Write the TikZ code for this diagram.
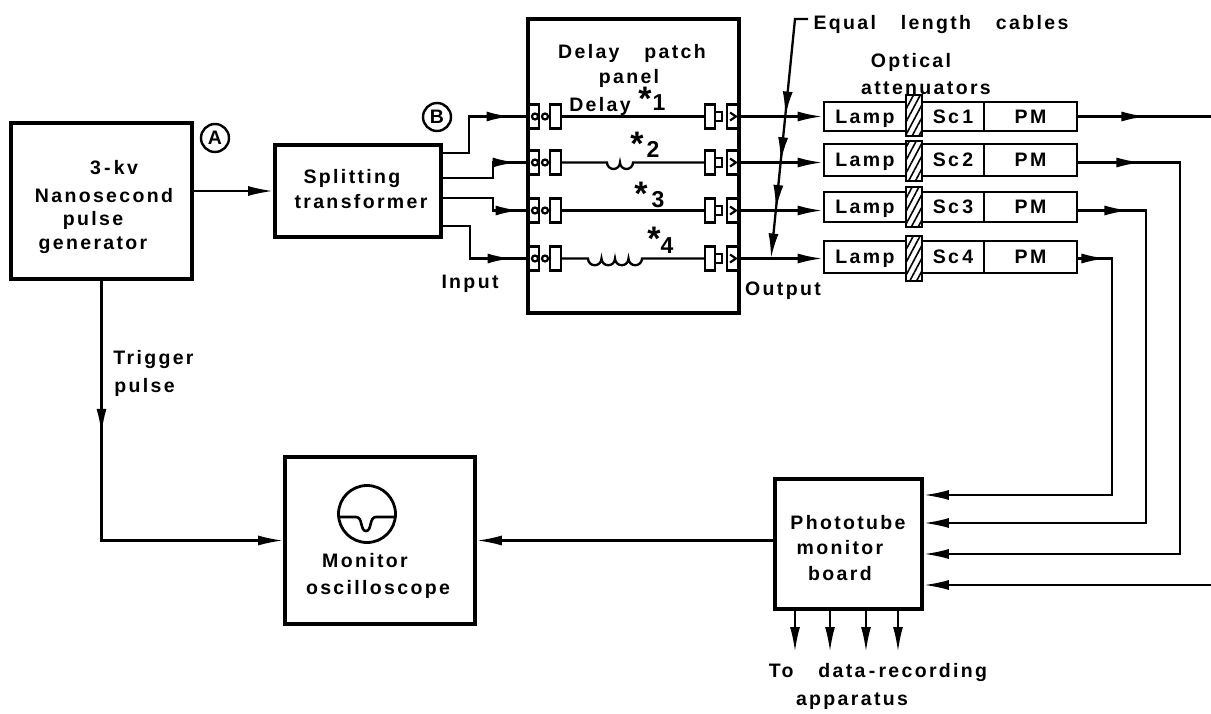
\documentclass[tikz,border=0pt]{standalone}
\usepackage{fontspec}
\setmainfont[LetterSpace=12,WordSpace=3.2]{Liberation Sans}
\usetikzlibrary{arrows.meta,decorations.markings,patterns.meta}

\begin{document}
\begin{tikzpicture}[x=1pt,y=-1pt,
    every node/.style={inner sep=0pt,font=\bfseries\fontsize{19.5}{23}\selectfont},
    >={Latex[length=25pt,width=10pt]},
    lbl/.style={text height=14pt,text depth=0pt},
    bigbox/.style={draw,line width=3.6pt,minimum width=#1},
    tube/.style={draw,line width=2.8pt,minimum width=#1,text height=14pt,text depth=0pt},
    atten/.style={draw,line width=2.8pt,minimum width=16pt,fill=white,
      pattern={Lines[angle=62,distance=6pt,line width=1.6pt]}},
    jack/.style={draw,line width=2.2pt},
    wire/.style={line width=2.3pt},
    midtip/.style={postaction={decorate,decoration={markings,mark=at position #1 with {\arrow{>}}}}},
    star/.style={font=\bfseries\fontsize{34}{34}\selectfont,text height=12pt,text depth=0pt},
    num/.style={font=\bfseries\fontsize{23}{23}\selectfont,text height=16pt,text depth=0pt},
    tag/.style={draw,circle,line width=2.4pt,minimum size=28pt}]
  \useasboundingbox (0,0) rectangle (1211,714);

  \node[bigbox=181pt,minimum height=156pt] (GEN) at (101.5,201) {};
  \node[bigbox=166pt,minimum height=92pt] (SPL) at (358,191) {};
  \node[bigbox=211pt,minimum height=294pt] (PNL) at (633.5,166) {};
  \node[bigbox=190pt,minimum height=167pt] (MON) at (380,540.5) {};
  \node[bigbox=147pt,minimum height=130pt] (PHT) at (848.5,544) {};

  \node[lbl] (KV) at (114,168) {3\,-\,kv};
  \node[lbl] (NANO) at (104,196) {Nanosecond};
  \node[lbl] (PLS) at (93,219) {pulse};
  \node[lbl] (GNR) at (93,243) {generator};
  \node[lbl] (SPLT) at (352,177) {Splitting};
  \node[lbl] (TRF) at (361,202) {transformer};
  \node[lbl] (DLY) at (632,52) {Delay patch};
  \node[lbl] (PANEL) at (629,77) {panel};
  \node[lbl] (EQL) at (941,23) {Equal length cables};
  \node[lbl] (OPT) at (911,61) {Optical};
  \node[lbl] (ATN) at (926,88) {attenuators};
  \node[lbl] (INP) at (470,282) {Input};
  \node[lbl] (OUTP) at (783,288) {Output};
  \node[lbl] (TRG) at (153.5,357) {Trigger};
  \node[lbl] (PUL) at (144.5,385) {pulse};
  \node[lbl] (MNT) at (365,560) {Monitor};
  \node[lbl] (OSC) at (378,587) {oscilloscope};
  \node[lbl] (PHO) at (848,522) {Phototube};
  \node[lbl] (MNB) at (840,547) {monitor};
  \node[lbl] (BRD) at (840,573) {board};
  \node[lbl] (TOD) at (878,670) {To data\,-\,recording};
  \node[lbl] (APP) at (852,698) {apparatus};

  \node[tag] (A) at (215,138) {A};
  \node[tag] (B) at (437,117) {B};

  \node[lbl] (DL1) at (600,105) {Delay};
  \node[star] (ST1) at (645,105) {*};
  \node[num] (NM1) at (659,103) {1};
  \node[star] (ST2) at (637,150) {*};
  \node[num] (NM2) at (653,150) {2};
  \node[star] (ST3) at (641,200) {*};
  \node[num] (NM3) at (658,200) {3};
  \node[star] (ST4) at (654,245) {*};
  \node[num] (NM4) at (667,246) {4};

  \node[tube=82pt,minimum height=29pt] (LAMP1) at (865,116.5) {Lamp};
  \node[tube=62pt,minimum height=29pt] (SC1) at (953,116.5) {Sc\,1};
  \node[tube=93pt,minimum height=29pt] (PM1) at (1030.5,116.5) {PM};
  \node[atten,minimum height=41pt] (ATT1) at (914,115.5) {};
  \node[tube=82pt,minimum height=32pt] (LAMP2) at (865,160) {Lamp};
  \node[tube=62pt,minimum height=32pt] (SC2) at (953,160) {Sc\,2};
  \node[tube=93pt,minimum height=32pt] (PM2) at (1030.5,160) {PM};
  \node[atten,minimum height=40pt] (ATT2) at (914,161) {};
  \node[tube=82pt,minimum height=30pt] (LAMP3) at (865,207) {Lamp};
  \node[tube=62pt,minimum height=30pt] (SC3) at (953,207) {Sc\,3};
  \node[tube=93pt,minimum height=30pt] (PM3) at (1030.5,207) {PM};
  \node[atten,minimum height=40pt] (ATT3) at (914,207) {};
  \node[tube=82pt,minimum height=32pt] (LAMP4) at (865,257) {Lamp};
  \node[tube=62pt,minimum height=32pt] (SC4) at (953,257) {Sc\,4};
  \node[tube=93pt,minimum height=32pt] (PM4) at (1030.5,257) {PM};
  \node[atten,minimum height=45pt] (ATT4) at (914,258.5) {};

  \foreach \n/\y in {1/116.5,2/162.5,3/210.5,4/258.5} {
    \node[jack,minimum width=11pt,minimum height=24pt] (JL\n) at (533.5,\y) {};
    \node[jack,circle,minimum size=6pt] (CL\n) at (535,\y) {};
    \node[jack,circle,minimum size=6pt] (BL\n) at (545,\y) {};
    \node[jack,minimum width=11pt,minimum height=24pt] (IL\n) at (555.5,\y) {};
    \node[jack,minimum width=10pt,minimum height=24pt] (IR\n) at (710,\y) {};
    \node[jack,minimum width=7pt,minimum height=9pt] (SR\n) at (718.5,\y) {};
    \node[jack,minimum width=12pt,minimum height=24pt] (JR\n) at (733,\y) {};
    \draw[jack] (JR\n.center) +(-3,-4) -- +(3,0) -- +(-3,4);
    \draw[wire,->] (JR\n.east) -- (JR\n.east -| LAMP\n.west);
  }

  \coordinate (S1) at (441,153);
  \coordinate (S2) at (441,178);
  \coordinate (S3) at (441,198);
  \coordinate (S4) at (441,226);
  \coordinate (T1) at (469,116.5);
  \coordinate (T2) at (493,162.5);
  \coordinate (T3) at (493,210.5);
  \coordinate (T4) at (470,258.5);
  \draw[wire,line width=2.8pt,midtip=107pt] (S1) -| (T1) -- (JL1.west);
  \draw[wire,line width=2.8pt,midtip=92pt] (S2) -| (T2) -- (JL2.west);
  \draw[wire,line width=2.8pt,midtip=92pt] (S3) -| (T3) -- (JL3.west);
  \draw[wire,line width=2.8pt,midtip=104pt] (S4) -| (T4) -- (JL4.west);

  \coordinate (CA2) at (607,162.5);
  \coordinate (CB2) at (633,162.5);
  \coordinate (CA4) at (588,258.5);
  \coordinate (CB4) at (642,258.5);
  \draw[wire] (IL1.east) -- (IR1.west);
  \draw[wire] (IL2.east) -- (CA2) arc (180:0:6.5) arc (180:0:6.5) -- (CB2) -- (IR2.west);
  \draw[wire] (IL3.east) -- (IR3.west);
  \draw[wire] (IL4.east) -- (CA4) arc (180:0:6.75) arc (180:0:6.75) arc (180:0:6.75) arc (180:0:6.75) -- (CB4) -- (IR4.west);

  \coordinate (Q1) at (808,19);
  \coordinate (Q2) at (795,19);
  \coordinate (Q3) at (771,258.5);
  \draw[wire,->,midtip=111pt,midtip=157pt,midtip=205pt] (Q1) -- (Q2) -- (Q3);

  \coordinate (R1) at (1211,116.5);
  \coordinate (R4) at (1211,585);
  \coordinate (V4) at (1112,495);
  \coordinate (V3) at (1146,523);
  \coordinate (V2) at (1180,554);
  \draw[wire,midtip=68pt] (PM1.east |- JR1) -- (R1);
  \draw[wire,->,midtip=63pt] (PM2.east |- JR2) -| (V2) -- (V2 -| PHT.east);
  \draw[wire,->,midtip=51pt] (PM3.east |- JR3) -| (V3) -- (V3 -| PHT.east);
  \draw[wire,->,midtip=28pt] (PM4.east |- JR4) -| (V4) -- (V4 -| PHT.east);
  \draw[wire,->] (R4) -- (R4 -| PHT.east);

  \draw[wire,->] (SPL.west -| GEN.east) -- (SPL.west);
  \draw[wire,->,midtip=153pt] (GEN.south) |- (MON.west);
  \draw[wire,->] (MON.east -| PHT.west) -- (MON.east);

  \coordinate (D1) at (795,652);
  \coordinate (D2) at (830,652);
  \coordinate (D3) at (866,652);
  \coordinate (D4) at (898,652);
  \draw[wire,->] (PHT.south -| D1) -- (D1);
  \draw[wire,->] (PHT.south -| D2) -- (D2);
  \draw[wire,->] (PHT.south -| D3) -- (D3);
  \draw[wire,->] (PHT.south -| D4) -- (D4);

  \node[draw,circle,line width=2.8pt,minimum size=57pt] (SCP) at (367,514) {};
  \draw[line width=2.6pt] (339,517) -- (356,517) .. controls (363,517) and (360,531) .. (366,531) .. controls (372,531) and (369,517) .. (376,517) -- (395,517);
\end{tikzpicture}
\end{document}
